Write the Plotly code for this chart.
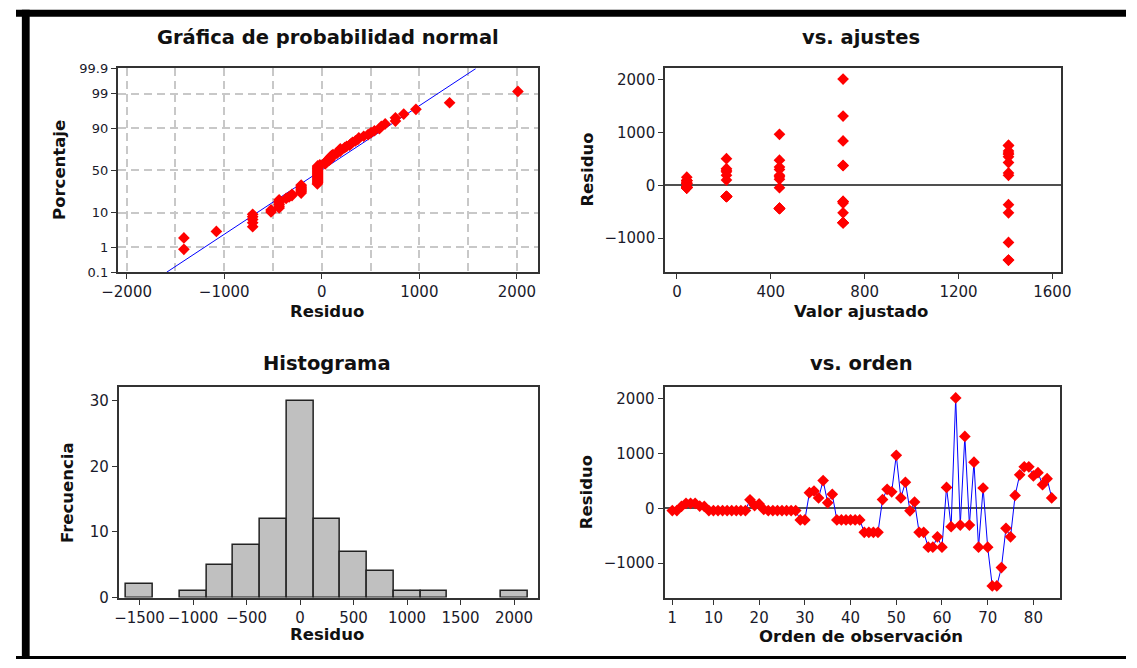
import plotly.graph_objects as go
from statistics import NormalDist, mean, stdev

W, H = 1137, 668
FONT = "DejaVu Sans"
TXT = "#1a1a2a"

# ---------------- data ----------------
fitted_levels = [42, 211, 437, 708, 1413]
group_sizes = [28, 14, 14, 14, 14]

residuals_g1 = [-42, -42, 35, 90, 90, 90, 40, 35, -42, -42, -42, -42, -42, -42,
                -42, -42, -42, 155, 50, 80, -20, -42, -42, -42, -42, -42, -42, -42]
residuals_g2 = [-211, -211, 285, 315, 190, 505, 100, 255, -211, -211, -211, -211, -211, -211]
residuals_g3 = [-437, -437, -437, -437, 160, 345, 300, 965, 190, 475, -45, 115, -437, -437]
residuals_g4 = [-708, -708, -520, -708, 380, -335, 2010, -305, 1310, -305, 840, -708, 370, -708]
residuals_g5 = [-1413, -1413, -1080, -365, -520, 235, 610, 755, 755, 590, 650, 430, 540, 190]

pct_ticks = [0.1, 1, 10, 50, 90, 99, 99.9]
pct_labels = ["0.1", "1", "10", "50", "90", "99", "99.9"]

residuals = residuals_g1 + residuals_g2 + residuals_g3 + residuals_g4 + residuals_g5
fitted = [lvl for lvl, k in zip(fitted_levels, group_sizes) for _ in range(k)]
order = list(range(1, len(residuals) + 1))

nd = NormalDist()
n = len(residuals)
sorted_res = sorted(residuals)
zscores = [nd.inv_cdf((i - 0.3) / (n + 0.4)) for i in range(1, n + 1)]
zt = [nd.inv_cdf(p / 100) for p in pct_ticks]
m, s = mean(residuals), stdev(residuals)
line_z = [zt[0], zt[-1]]
line_x = [m + s * z for z in line_z]


def dx(a, b):
    return [a / W, b / W]


def dy(top, bottom):
    return [1 - bottom / H, 1 - top / H]


def px(x):
    return x / W


def py(y):
    return 1 - y / H


axis_common = dict(showline=True, linecolor="#333333", linewidth=2, mirror=True,
                   ticks="outside", ticklen=5, tickwidth=1, tickcolor="#333333",
                   tickfont=dict(family=FONT, size=15, color=TXT),
                   showgrid=False, zeroline=False)
grid = dict(showgrid=True, gridcolor="#c8c8c8", gridwidth=1.5, griddash="8px,5px")

MK = dict(symbol="diamond", size=9, color="#ff0000", line=dict(width=0))

fig = go.Figure()

# normal probability plot
fig.add_trace(go.Scatter(x=line_x, y=line_z, mode="lines",
                         line=dict(color="#0000ff", width=1), xaxis="x", yaxis="y"))
fig.add_trace(go.Scatter(x=sorted_res, y=zscores, mode="markers", marker=MK,
                         xaxis="x", yaxis="y"))

# vs fits
fig.add_trace(go.Scatter(x=fitted, y=residuals, mode="markers", marker=MK,
                         xaxis="x2", yaxis="y2"))

# histogram
fig.add_trace(go.Histogram(x=residuals, xbins=dict(start=-1625, end=2125, size=250),
                           marker=dict(color="#c0c0c0", line=dict(color="#222222", width=1.5)),
                           xaxis="x3", yaxis="y3"))

# vs order
fig.add_trace(go.Scatter(x=order, y=residuals, mode="lines+markers",
                         line=dict(color="#0000ff", width=1), marker=MK,
                         xaxis="x4", yaxis="y4"))

fig.update_layout(
    width=W, height=H, showlegend=False,
    margin=dict(l=0, r=0, t=0, b=0),
    paper_bgcolor="white", plot_bgcolor="white",
    font=dict(family=FONT, color=TXT),
    bargap=0,
    xaxis=dict(axis_common, domain=dx(104.3, 534.6), range=[-2090, 2215],
               tickvals=[-2000, -1000, 0, 1000, 2000], anchor="y", **grid,
               minor=dict(tickvals=[-1500, -500, 500, 1500], ticks="", showgrid=True,
                          gridcolor="#c8c8c8", gridwidth=1.5, griddash="8px,5px")),
    yaxis=dict(axis_common, domain=dy(63, 271.7), range=[zt[0], zt[-1]],
               tickvals=zt, ticktext=pct_labels, anchor="x", **grid,
               tickfont=dict(family=FONT, size=13, color=TXT)),
    xaxis2=dict(axis_common, domain=dx(665, 1070), range=[-50, 1635],
                tickvals=[0, 400, 800, 1200, 1600], anchor="y2"),
    yaxis2=dict(axis_common, domain=dy(63, 271), range=[-1630, 2210],
                tickvals=[-1000, 0, 1000, 2000], anchor="x2",
                zeroline=True, zerolinecolor="#505050", zerolinewidth=1.5),
    xaxis3=dict(axis_common, domain=dx(105.4, 534.6), range=[-1693, 2223],
                tickvals=[-1500, -1000, -500, 0, 500, 1000, 1500, 2000], anchor="y3"),
    yaxis3=dict(axis_common, domain=dy(389.3, 605), range=[0, 32.1],
                tickvals=[0, 10, 20, 30], anchor="x3"),
    xaxis4=dict(axis_common, domain=dx(664.3, 1069.3), range=[-0.7, 85.8],
                tickvals=[1, 10, 20, 30, 40, 50, 60, 70, 80], anchor="y4"),
    yaxis4=dict(axis_common, domain=dy(389.3, 605.3), range=[-1630, 2210],
                tickvals=[-1000, 0, 1000, 2000], anchor="x4",
                zeroline=True, zerolinecolor="#505050", zerolinewidth=1.5),
)

# outer black frame (top, left, bottom)
for x0, y0, x1, y1 in [(0, 2.7, W, 10), (6, 2.7, 14, H), (0, 665, W, H)]:
    fig.add_shape(type="rect", xref="paper", yref="paper",
                  x0=px(x0), x1=px(x1), y0=py(y1), y1=py(y0),
                  fillcolor="black", line=dict(width=0), layer="above")

titles = [
    ("Gráfica de probabilidad normal", 319.6, 31.5),
    ("vs. ajustes", 865.5, 31.5),
    ("Histograma", 319, 365),
    ("vs. orden", 866, 365),
]
for t, x, y in titles:
    fig.add_annotation(text=t, x=px(x), y=py(y), xref="paper", yref="paper",
                       showarrow=False, xanchor="center", yanchor="middle",
                       font=dict(family=FONT, size=19.5, color="#111111", weight="bold"))

xlabels = [
    ("Residuo", 319, 312),
    ("Valor ajustado", 865.5, 312),
    ("Residuo", 319, 643),
    ("Orden de observación", 866, 645),
]
for t, x, y in xlabels:
    fig.add_annotation(text=t, x=px(x), y=py(y), xref="paper", yref="paper",
                       showarrow=False, xanchor="center", yanchor="middle",
                       font=dict(family=FONT, size=16.5, color="#111111", weight="bold"))

ylabels = [
    ("Porcentaje", 44, 167),
    ("Residuo", 584.5, 167),
    ("Frecuencia", 52.7, 497.5),
    ("Residuo", 584, 497),
]
for t, x, y in ylabels:
    fig.add_annotation(text=t, x=px(x), y=py(y), xref="paper", yref="paper",
                       showarrow=False, xanchor="center", yanchor="middle", textangle=-90,
                       font=dict(family=FONT, size=16.5, color="#111111", weight="bold"))

fig.write_html("out.html", config={"displayModeBar": False})
